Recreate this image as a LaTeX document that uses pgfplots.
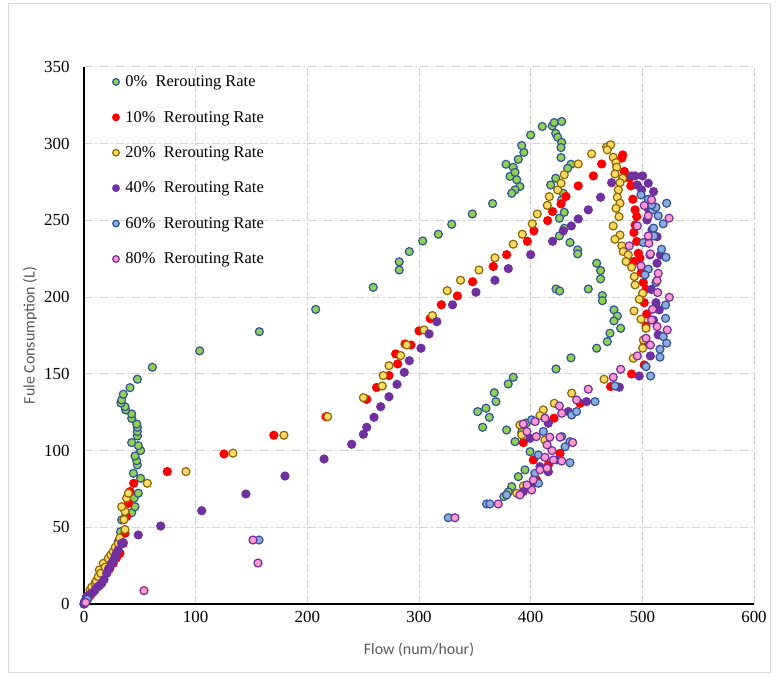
\documentclass[border=0pt]{standalone}
\usepackage{fontspec}
\setmainfont{Liberation Serif}
\newfontfamily\calibri{Carlito}
\usepackage{pgfplots}
\pgfplotsset{compat=1.18}
\definecolor{gfill}{RGB}{146,208,80}
\definecolor{gedge}{RGB}{47,85,151}
\definecolor{rfill}{RGB}{255,0,0}
\definecolor{yfill}{RGB}{255,217,102}
\definecolor{yedge}{RGB}{140,105,0}
\definecolor{pfill}{RGB}{112,48,160}
\definecolor{bfill}{RGB}{143,170,220}
\definecolor{bedge}{RGB}{47,85,151}
\definecolor{kfill}{RGB}{255,153,204}
\definecolor{kedge}{RGB}{112,48,160}
\definecolor{gridc}{RGB}{210,210,210}
\definecolor{labc}{RGB}{89,89,89}
\definecolor{framec}{RGB}{217,217,217}
\begin{document}
\begin{tikzpicture}
\path (0bp,0bp) rectangle (776bp,675bp);
\draw[framec, line width=0.75bp] (8bp,3bp) rectangle (770bp,672bp);
\begin{axis}[
  at={(84bp,71bp)}, anchor=south west,
  scale only axis, width=670bp, height=537bp,
  xmin=0, xmax=600, ymin=0, ymax=350,
  xtick={0,100,...,600}, ytick={0,50,...,350},
  axis x line*=bottom, axis y line*=left,
  axis line style={-, black, line width=1.5bp},
  grid=major,
  major grid style={gridc, line width=1bp, dash pattern=on 8bp off 3bp on 2bp off 3bp},
  major tick length=0pt,
  /pgf/number format/assume math mode=true,
  tick label style={font=\fontsize{17}{20}\selectfont},
  xticklabel style={yshift=-4bp},
  yticklabel style={xshift=-11bp},
  xlabel={Flow (num/hour)},
  ylabel={Fule Consumption (L)},
  xlabel style={font=\calibri\fontsize{16}{19}\selectfont, text=labc, at={(axis description cs:0.5,0)}, anchor=center, yshift=-46bp},
  ylabel style={font=\calibri\fontsize{16}{19}\selectfont, text=labc, at={(axis description cs:0,0.5)}, anchor=center, yshift=54bp},
  clip=false,
  legend style={at={(rel axis cs:0.0425,1)}, anchor=north west, draw=none, fill=none, yshift=-6.5bp,
     font=\fontsize{16.5}{19.5}\selectfont, row sep=19bp, inner sep=0bp, legend cell align=left},
  legend image code/.code={\path[draw=none, fill=none] (-3.3bp,0bp) -- (7.5bp,0bp); \draw[#1, mark size=3.3bp] plot coordinates {(0bp,0bp)};},
]
% 0% rerouting
\addplot[only marks, mark=*, mark size=4bp, mark options={fill=gfill, draw=gedge, line width=1.2bp}] coordinates {
(0.5,0.5)(1,1.5)(2,3)(3,4.5)(5,6)(7,8)(9,10)(11,12)(13,14)(15,16)(17,18)(19,20)(21,22)(23,25)(25,28)(27,31)(29,34)
(30.7,40.6)(32.7,47.1)(33.7,54.8)(42.7,59.5)(45.7,63.4)(44.8,68.9)(48.6,72.2)(50.7,81.9)(44.2,85.2)(47.8,90.6)(47.2,93.4)
(45.7,96.5)(50.7,100)(48.6,103.2)(42.7,105.2)(47.8,109.5)(47.8,112.4)(47.8,115.2)(47.2,117.3)(42.7,121)(42.7,123.9)
(37.3,126.5)(36.7,128.6)(33.1,131)(33.7,133)(35.2,136.7)(41.2,141)(47.8,146.5)(61.2,154.3)(103.6,165)(157,177.5)
(207.5,192)(259,206.4)(282.3,217.7)(282.3,223)(291.3,229.7)(303.3,236.6)(317.3,241)(329.3,247.5)(347.7,254.2)(365.9,261)
(377.9,286.6)(384.4,284.6)(381.5,278.7)(386,281.3)(387.5,276.5)(390.4,272.1)(386,269.9)(383,267.7)(388.9,289.8)
(393.9,294.4)(392,298.8)(400,305.7)(410.4,311.2)(419.3,311.6)(421.1,313.8)(427.8,314.5)(422.4,306.8)(424.2,304.2)
(427.8,300.9)(427.2,297.5)(427.2,291)(436.1,286.6)(433.1,284)(422.4,277.5)(417.9,273.1)(429.2,267.7)(427.8,263.3)
(430.1,255.3)(425.7,251.4)(430.1,244.9)(425.7,239.9)(435.2,235.6)(442.1,230.8)(442.1,228.2)(459.1,222.1)(462.6,217.3)
(462.6,211.9)(451.6,205.3)(464.2,201)(464.2,197.7)(474.6,191.7)(477.6,187.7)(474.6,184.5)(480.6,179.7)(471,176.5)
(468.6,171)(459.1,166.7)(422.7,205.3)(426,204)(436.1,160.4)(422.7,153.2)(384.4,147.8)(379.9,143.4)(367.4,137.7)
(368.9,131.9)(352.5,125.4)(360,127.6)(363,121.7)(357,115.2)(378.5,113.4)(386,105.8)(394.9,87.4)(388.9,83)(383,76.5)
(399.4,99.3)(396,118)(392,112)(376,70)(380,73)
};
\addlegendentry{0\%\ \ Rerouting Rate}
% 10%
\addplot[only marks, mark=*, mark size=4bp, mark options={fill=rfill, draw=rfill, line width=1.2bp}] coordinates {
(0.5,0.5)(2,2)(4,4)(6,6)(8.4,9.1)(11,11)(14.3,13.5)(17,16)(20.3,20)(23,23)(26.2,26.5)(29,30)(32.2,33)(35.2,39.5)
(36.7,46.1)(38.2,57)(39.7,65.6)(41.2,73.3)(44.5,78.7)(74.6,86.3)(125.4,97.8)(170,110)(216.7,122.1)(253.2,133.4)
(262,141.1)(273.1,148.9)(280.9,156.5)(279.1,163)(287.5,169.5)(292.8,168.8)(300,178)(310,186)(320,195)(334.4,200.8)
(348,210)(366.5,220)(378.5,227.7)(397,236.4)(402.9,243.2)(415.2,249.9)(419.6,255.8)(427.2,260.8)(431.6,265.6)
(442.6,272.5)(456.1,279)(463.6,286.8)(482.4,292.7)(481.6,290.6)(483.9,281.9)(488.5,277.5)(489.7,272.5)(491.5,263.8)
(493.5,256.9)(495,252.5)(493.5,247)(492.5,242.1)(495,236.3)(496.4,228.6)(497.9,225.4)(492.5,223.2)(499,216)
(500.9,209.5)(503.3,205.1)(501.7,196.4)(504,189)(503.3,181.2)(502,170)(501.7,155.8)(490.4,149.9)(471.6,141.7)
(420.9,121.1)(444.2,130.8)(393.4,105.2)(402.4,93.9)(426.3,98.2)(415.8,90.6)(405.3,80.8)
};
\addlegendentry{10\%\ \ Rerouting Rate}
% 20%
\addplot[only marks, mark=*, mark size=4bp, mark options={fill=yfill, draw=yedge, line width=1.2bp}] coordinates {
(0.5,0.5)(2.4,4.8)(5.4,9.1)(7,11)(9.9,13.5)(11,15)(12.8,17.8)(13.7,22.2)(15,20)(17.3,26.5)(19,24)(21.8,29.8)(24,32)
(26.2,34.1)(28,37)(30.7,39.5)(32,43)(36.7,48.5)(35.8,55)(36.7,60.3)(33.7,63.4)(38.2,69)(39.7,72.2)(56.7,78.7)
(91.3,86.3)(133.4,98.3)(179,110)(218.2,122.1)(250.2,134.5)(267.1,142.1)(268,148.9)(273.1,155.3)(283.6,161.9)
(289,168.8)(304.5,178.6)(312,188)(325.3,204.2)(337.2,211)(353.7,217.7)(368,225.6)(384.4,234.5)(392.5,241)
(401.5,247.8)(405.9,254.2)(414.9,259.8)(416.7,265.5)(424.2,269.9)(427.2,274.2)(430.1,279.8)(442.6,286.8)(454.6,293.4)
(468,297.8)(471.6,299.3)(468.6,296)(473.9,291.2)(476.4,287.7)(477,284.7)(475.5,280.3)(482.4,277.5)(480,274.6)
(478.5,269.9)(477.6,265.1)(480,261.2)(476.4,257.9)(479.1,252.5)(473.9,246.4)(480,240.5)(475.5,237.7)(481.6,233.4)
(482.9,229.7)(487.4,227.5)(485.4,223.2)(490.4,219.5)(492.8,213.4)(493.5,208)(500.2,202.5)(497.2,198.6)(492.5,191)
(498.8,185.6)(503.3,179.7)(500.9,172.1)(500.3,166.7)(491.9,160.2)(465.7,146.5)(436.7,137.4)(421.2,130.8)(411.3,126.5)
(408.3,122.8)(390.4,116.7)(391.9,110.2)(412.8,106.9)(393.4,76.9)(387.5,72.2)
};
\addlegendentry{20\%\ \ Rerouting Rate}
% 40%
\addplot[only marks, mark=*, mark size=4bp, mark options={fill=pfill, draw=pfill, line width=1.2bp}] coordinates {
(0,0)(0.5,1.5)(1.5,2.5)(2.4,4.8)(4,5)(6,6.5)(8,7.5)(9.9,9.1)(12,11)(14,12)(15.9,13.5)(18,16)(20.3,20)(22,23)
(24.8,26.5)(26,28)(27.8,30.8)(29,33)(30.7,35.2)(33.7,39.5)(35,40)(48.6,45)(68.7,50.8)(105.4,60.8)(145,71.7)(180,83.4)
(215,94.5)(239.7,104.1)(250.2,110.6)(253.2,115.2)(259.7,121.7)(265.7,128.6)(273.1,135.1)(280.3,143.2)(286.8,151)
(291.3,158.6)(301.8,166.7)(309,176)(316,184)(330,195)(351,203.2)(368,211)(380,218.6)(400,227.7)(419.6,236.4)
(429.2,243.2)(436.4,246.4)(442.6,251)(451.6,256.9)(462.6,265.1)(472.5,274.6)(490.4,279)(493.5,279)(500.2,279)
(495.5,273.1)(505.3,274.2)(499.3,269.9)(510.1,268.8)(507.2,263.3)(505,258)(504.2,250.3)(508.7,243.8)(513.2,239.4)
(516.2,227.5)(513.2,222.1)(506.8,227.5)(508,205)(512.2,196.4)(515.1,191.7)(510,185)(514.2,175.4)(507.2,161.7)
(497.2,148.6)(479.4,141.3)(450,131.9)(433.7,125.4)(415.8,117.8)(399.4,108)(423.3,93.9)(408.3,89.5)(415.8,86.2)
(402.4,78.7)(393.4,73.3)
};
\addlegendentry{40\%\ \ Rerouting Rate}
% 60%
\addplot[only marks, mark=*, mark size=4bp, mark options={fill=bfill, draw=bedge, line width=1.2bp}] coordinates {
(0,0)(1,1)(2,2)(3,3)(156.7,41.7)(326.2,56.2)(360.5,65.2)(363.5,65.2)(378.5,71.1)(407,78.7)(403.9,85.2)(435.2,92.1)
(407,97.1)(430.8,102.5)(435.2,105.8)(427.8,109.1)(411.3,112.4)(400.9,120)(436.7,123.2)(441.1,125.4)(457.6,131.9)
(475.5,142.1)(503.3,154.7)(507.4,148.6)(515.8,160.9)(515.8,166.1)(521.8,170)(518.7,174.3)(520.8,186.2)(520.8,194.9)
(512.2,209.5)(505.3,218.2)(502.4,214.5)(521.2,226)(517.2,231.2)(500.9,235.6)(510.4,239.9)(510.1,245)(518.7,247.8)
(514.2,253)(509.2,256.9)(521.8,261.2)(512.2,258.6)(508.3,260.1)(505.3,263.8)(498.8,266.6)
};
\addlegendentry{60\%\ \ Rerouting Rate}
% 80%
\addplot[only marks, mark=*, mark size=4bp, mark options={fill=kfill, draw=kedge, line width=1.2bp}] coordinates {
(0.5,0.5)(1.5,1)(53.7,8.7)(155.8,26.7)(151.3,41.7)(332.2,56.2)(371,65.2)(390.4,71.1)(400.9,74.3)(396.6,77.6)
(402.4,80.8)(408.3,87.4)(414.7,88.5)(427.8,93.2)(420.4,93.9)(412.8,95.6)(419.1,100)(414.7,103.7)(437.6,105.2)
(426.3,108.7)(417.1,108.7)(405,109.1)(396.6,112.4)(393.4,117.3)(404,118.9)(412.8,121.1)(427.8,124.3)(425.7,129.1)
(441.1,133)(451.6,140)(474,147.8)(480.6,153)(495.5,161.7)(507.2,168.8)(503.3,173.2)(522.3,178.6)(513.2,180.8)
(508.3,185.1)(509.2,192.1)(524.2,199.9)(513.7,203)(513.2,210.8)(514.2,215.5)(498.8,220.3)(507.2,228.2)(488.3,233.4)
(505.9,235.1)(505.3,239.9)(495.5,246.4)(523.9,251.5)(505.3,253)(501.7,259.7)(508.3,263.3)
};
\addlegendentry{80\%\ \ Rerouting Rate}
\end{axis}
\end{tikzpicture}
\end{document}
